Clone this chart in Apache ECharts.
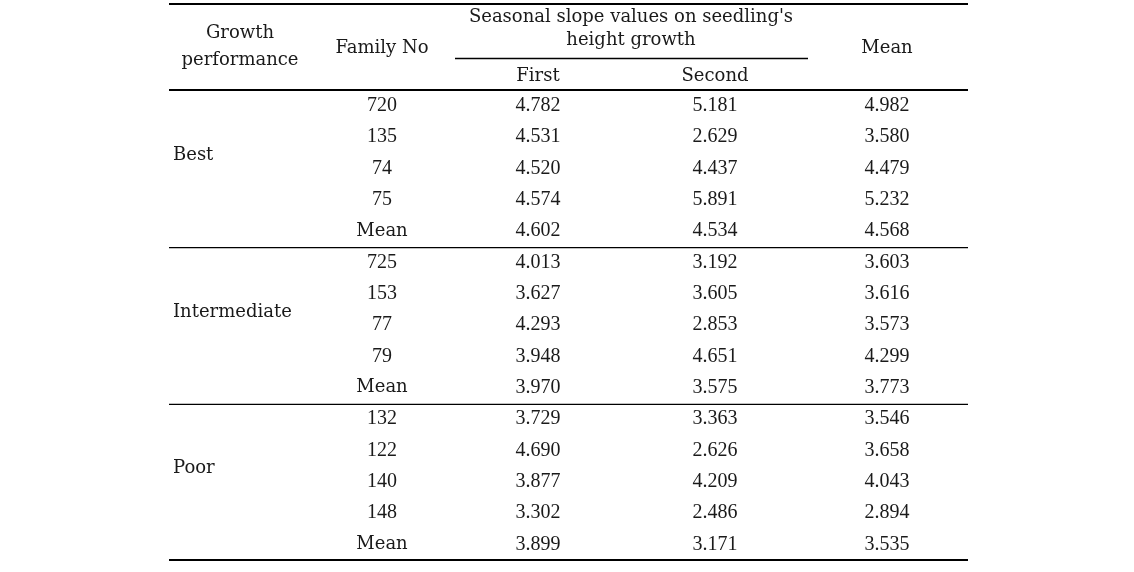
<!DOCTYPE html>
<html>
<head>
<meta charset="utf-8">
<script src="https://cdn.jsdelivr.net/npm/echarts@6/dist/echarts.min.js"></script>
<style>
html,body{margin:0;padding:0;background:#fff;}
#chart{width:1134px;height:572px;}
</style>
</head>
<body>
<div id="chart"></div>
<script>
// ---- data ----
const groups = ['Best', 'Intermediate', 'Poor'];
const families = ['720','135','74','75','Mean','725','153','77','79','Mean','132','122','140','148','Mean'];
const firstVals = [4.782,4.531,4.520,4.574,4.602,4.013,3.627,4.293,3.948,3.970,3.729,4.690,3.877,3.302,3.899];
const secondVals = [5.181,2.629,4.437,5.891,4.534,3.192,3.605,2.853,4.651,3.575,3.363,2.626,4.209,2.486,3.171];
const meanVals = [4.982,3.580,4.479,5.232,4.568,3.603,3.616,3.573,4.299,3.773,3.546,3.658,4.043,2.894,3.535];
const headGrowth = 'Growth\nperformance';
const headFamily = 'Family No';
const headSeasonal = "Seasonal slope values on seedling's\nheight growth";
const headFirst = 'First';
const headSecond = 'Second';
const headMean = 'Mean';

// ---- layout (axis units) ----
const colX = {group: 4, family: 213, first: 369, second: 546, mean: 718, growth: 71, seasonal: 462};
const WORD = '18px "DejaVu Serif"';
const NUM = '20px "Liberation Serif"';

const cells = [];
function add(x, y, text, font, align, lh) {
  cells.push({x: x, y: y, text: text, font: font, align: align || 'center', lh: lh});
}
add(colX.growth, -1.37, headGrowth, WORD, 'center', 27);
add(colX.family, -1.32, headFamily, WORD);
add(colX.seasonal, -1.96, headSeasonal, WORD, 'center', 23);
add(colX.first, -0.44, headFirst, WORD);
add(colX.second, -0.44, headSecond, WORD);
add(colX.mean, -1.32, headMean, WORD);
groups.forEach(function (g, gi) { add(colX.group, gi * 5 + 2.08, g, WORD, 'left'); });
families.forEach(function (f, i) {
  const y = i + 0.5;
  add(colX.family, y, f, f === 'Mean' ? WORD : NUM);
  add(colX.first, y, firstVals[i].toFixed(3), NUM);
  add(colX.second, y, secondVals[i].toFixed(3), NUM);
  add(colX.mean, y, meanVals[i].toFixed(3), NUM);
});

const rules = [
  [0, -2.745, 799, -2.745, 2],
  [286, -1.005, 639, -1.005, 1.3],
  [0, 0, 799, 0, 2],
  [0, 5.03, 799, 5.03, 1.2],
  [0, 10.03, 799, 10.03, 1.2],
  [0, 15, 799, 15, 2]
];

const chart = echarts.init(document.getElementById('chart'), null, {renderer: 'canvas'});
chart.setOption({
  animation: false,
  backgroundColor: '#fff',
  grid: {left: 169, right: 166, top: 4, bottom: 12},
  xAxis: {type: 'value', min: 0, max: 799, show: false},
  yAxis: {type: 'value', min: -2.745, max: 15, inverse: true, show: false},
  series: [
    {
      type: 'custom',
      clip: false,
      silent: true,
      data: rules,
      renderItem: function (params, api) {
        const p1 = api.coord([api.value(0), api.value(1)]);
        const p2 = api.coord([api.value(2), api.value(3)]);
        return {
          type: 'line',
          shape: {x1: p1[0], y1: p1[1], x2: p2[0], y2: p2[1]},
          style: {stroke: '#000', lineWidth: api.value(4)}
        };
      }
    },
    {
      type: 'custom',
      clip: false,
      silent: true,
      data: cells.map(function (c) { return [c.x, c.y]; }),
      renderItem: function (params, api) {
        const c = cells[params.dataIndex];
        const p = api.coord([api.value(0), api.value(1)]);
        return {
          type: 'text',
          x: p[0],
          y: p[1],
          style: {
            text: c.text,
            font: c.font,
            fill: '#1a1a1a',
            align: c.align,
            verticalAlign: 'middle',
            lineHeight: c.lh
          }
        };
      }
    }
  ]
});
</script>
</body>
</html>
